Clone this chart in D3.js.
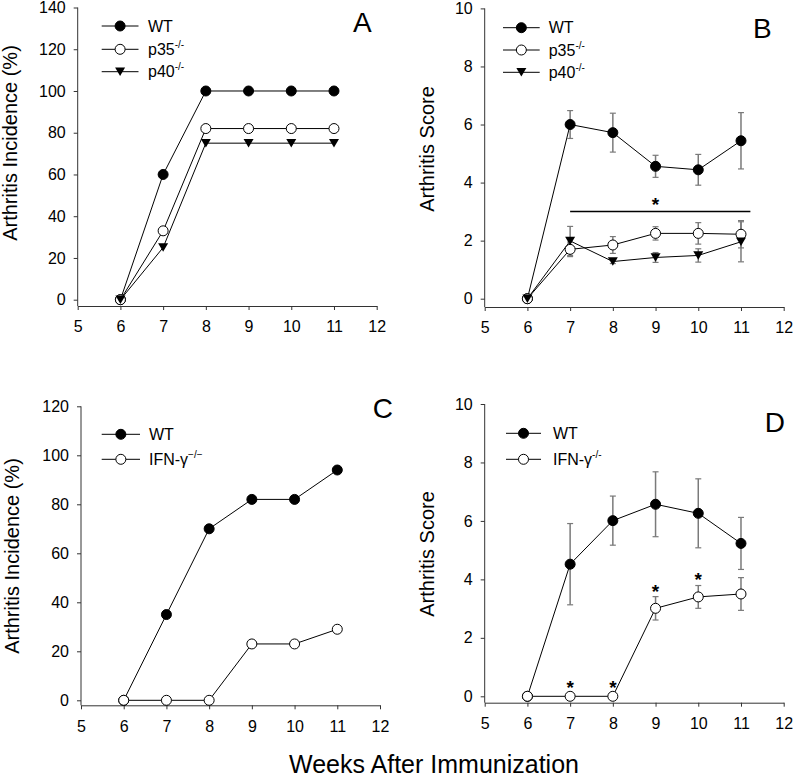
<!DOCTYPE html>
<html>
<head>
<meta charset="utf-8">
<script src="https://cdn.jsdelivr.net/npm/d3@7"></script>
<style>
  body { margin: 0; background: #fff; }
  svg { display: block; }
  text { font-family: "Liberation Sans", Arial, sans-serif; fill: #000; }
</style>
</head>
<body>
<svg id="chart" width="793" height="778"></svg>
<script>
// ---------- DATA ----------
const weeks = [6, 7, 8, 9, 10, 11];
const xTicks = [5, 6, 7, 8, 9, 10, 11, 12];

// Panel A: incidence (%)
const incWT_A  = [0, 60, 100, 100, 100, 100];
const incP35_A = [0, 33, 82, 82, 82, 82];
const incP40_A = [0, 25, 75, 75, 75, 75];
const yTicksA  = [0, 20, 40, 60, 80, 100, 120, 140];

// Panel B: arthritis score (mean ± SEM)
const scoreWT_B  = [0, 6.00, 5.72, 4.56, 4.44, 5.44];
const errWT_B    = [0, 0.48, 0.67, 0.38, 0.53, 0.97];
const scoreP35_B = [0, 1.70, 1.85, 2.25, 2.25, 2.22];
const errP35_B   = [0, 0.25, 0.29, 0.23, 0.37, 0.47];
const scoreP40_B = [0, 1.99, 1.28, 1.42, 1.49, 1.96];
const errP40_B   = [0, 0.50, 0.07, 0.17, 0.23, 0.69];
const sigLineB_x = [7, 11.22];
const sigLineB_y = 3.0;
const starB_x = [9];
const starB_y = [3.4];
const yTicksB = [0, 2, 4, 6, 8, 10];

// Panel C: incidence (%)
const incWT_C  = [0, 35, 70, 82, 82, 94];
const incIFN_C = [0, 0, 0, 23, 23, 29];
const yTicksC  = [0, 20, 40, 60, 80, 100, 120];

// Panel D: arthritis score (mean ± SEM)
const scoreWT_D  = [0, 4.52, 6.01, 6.57, 6.26, 5.23];
const errWT_D    = [0, 1.39, 0.84, 1.11, 1.18, 0.89];
const scoreIFN_D = [0, 0, 0, 3.01, 3.40, 3.50];
const errIFN_D   = [0, 0, 0, 0.40, 0.39, 0.56];
const starD_x = [7, 8, 9, 10];
const starD_y = [0.45, 0.45, 3.75, 4.15];
const yTicksD = [0, 2, 4, 6, 8, 10];

// ---------- DRAWING ----------
const svg = d3.select("#chart");
const axisColor = "#333";
const errColor = "#7a7a7a";
const fmt = d3.format("d");

function trianglePath(s) {
  const w = s, h = s * 0.85;
  return `M${-w/2},${-h/2}L${w/2},${-h/2}L0,${h/2}Z`;
}

function drawMarker(g, type, x, y) {
  if (type === "filled") {
    g.append("circle").attr("cx", x).attr("cy", y).attr("r", 5)
      .attr("fill", "#000").attr("stroke", "#000");
  } else if (type === "open") {
    g.append("circle").attr("cx", x).attr("cy", y).attr("r", 5)
      .attr("fill", "#fff").attr("stroke", "#000").attr("stroke-width", 1);
  } else if (type === "tri") {
    g.append("path").attr("d", trianglePath(10))
      .attr("transform", `translate(${x},${y})`)
      .attr("fill", "#000");
  }
}

function panel(cfg) {
  const g = svg.append("g");
  const x = d3.scaleLinear().domain([5, 12]).range([cfg.xL, cfg.xR]);
  const y = d3.scaleLinear().domain([0, cfg.yMax]).range([cfg.zeroY, cfg.topY]);

  // y axis
  const ya = g.append("g").attr("transform", `translate(${cfg.xL},0)`)
    .call(d3.axisLeft(y).tickValues(cfg.yTicks).tickFormat(fmt).tickSize(4).tickSizeOuter(0).tickPadding(8));
  ya.select(".domain").remove();
  ya.selectAll("line").attr("stroke", axisColor);
  ya.selectAll("text").style("font-size", "16px").style("font-family", "Liberation Sans, Arial, sans-serif").attr("fill", "#000");
  g.append("line").attr("x1", cfg.xL).attr("x2", cfg.xL)
    .attr("y1", cfg.topY).attr("y2", cfg.axisY).attr("stroke", axisColor);

  // x axis
  const xa = g.append("g").attr("transform", `translate(0,${cfg.axisY})`)
    .call(d3.axisBottom(x).tickValues(xTicks).tickFormat(fmt).tickSize(4).tickSizeOuter(0).tickPadding(11));
  xa.select(".domain").attr("stroke", axisColor);
  xa.selectAll("line").attr("stroke", axisColor);
  xa.selectAll("text").style("font-size", "16px").style("font-family", "Liberation Sans, Arial, sans-serif").attr("fill", "#000");

  // y label
  g.append("text").attr("transform", `translate(${cfg.ylabX},${cfg.ylabY}) rotate(-90)`)
    .attr("text-anchor", "middle").style("font-size", "20px").text(cfg.ylabel);

  // panel letter
  g.append("text").attr("x", cfg.letterX).attr("y", cfg.letterY)
    .style("font-size", "28px").text(cfg.letter);

  const line = d3.line().x((d, i) => x(weeks[i])).y(d => y(d));

  // lines
  cfg.series.forEach(s => {
    g.append("path").datum(s.values).attr("d", line)
      .attr("fill", "none").attr("stroke", "#000").attr("stroke-width", 1);
  });

  // significance line
  if (cfg.sigLine) {
    g.append("line").attr("x1", x(cfg.sigLine.x[0])).attr("x2", x(cfg.sigLine.x[1]))
      .attr("y1", y(cfg.sigLine.y)).attr("y2", y(cfg.sigLine.y))
      .attr("stroke", "#000").attr("stroke-width", 1.5);
  }

  // error bars
  cfg.series.forEach(s => {
    if (!s.err) return;
    s.values.forEach((v, i) => {
      const e = s.err[i];
      if (!e) return;
      const cx = x(weeks[i]);
      const y1 = y(v + e), y2 = y(v - e);
      g.append("line").attr("x1", cx).attr("x2", cx).attr("y1", y1).attr("y2", y2)
        .attr("stroke", errColor).attr("stroke-width", 1.5);
      [y1, y2].forEach(yy => {
        g.append("line").attr("x1", cx - 3).attr("x2", cx + 3).attr("y1", yy).attr("y2", yy)
          .attr("stroke", errColor).attr("stroke-width", 1.2);
      });
    });
  });

  // markers
  cfg.series.forEach(s => {
    s.values.forEach((v, i) => drawMarker(g, s.marker, x(weeks[i]), y(v)));
  });

  // stars
  if (cfg.stars) {
    cfg.stars.x.forEach((sx, i) => {
      g.append("text").attr("x", x(sx)).attr("y", y(cfg.stars.y[i]) + 11)
        .attr("text-anchor", "middle").style("font-size", "19px").style("font-weight", "bold")
        .text("*");
    });
  }

  // legend
  cfg.series.forEach((s, i) => {
    const ry = cfg.legRows[i];
    g.append("line").attr("x1", cfg.legX1).attr("x2", cfg.legX2).attr("y1", ry).attr("y2", ry)
      .attr("stroke", "#000").attr("stroke-width", 1);
    drawMarker(g, s.marker, (cfg.legX1 + cfg.legX2) / 2, ry);
    const t = g.append("text").attr("x", cfg.legTX).attr("y", ry + 5.5).style("font-size", "16px");
    t.append("tspan").text(s.name);
    if (s.sup) {
      t.append("tspan").attr("dy", -7).style("font-size", "10px").text(s.sup);
    }
  });
}

panel({
  xL: 77.7, xR: 376.7, zeroY: 299.7, topY: 7.5, axisY: 306, yMax: 140, yTicks: yTicksA,
  ylabel: "Arthritis Incidence (%)", ylabX: 17, ylabY: 143,
  letter: "A", letterX: 353, letterY: 31.5,
  legX1: 101.7, legX2: 138.5, legTX: 148, legRows: [26, 49.3, 71.7],
  series: [
    { name: "WT", values: incWT_A, marker: "filled" },
    { name: "p35", sup: "-/-", values: incP35_A, marker: "open" },
    { name: "p40", sup: "-/-", values: incP40_A, marker: "tri" }
  ]
});

panel({
  xL: 484.7, xR: 783.7, zeroY: 298.7, topY: 8.4, axisY: 307, yMax: 10, yTicks: yTicksB,
  ylabel: "Arthritis Score", ylabX: 434, ylabY: 149,
  letter: "B", letterX: 753, letterY: 37.5,
  legX1: 503, legX2: 539.7, legTX: 548.7, legRows: [27.7, 50, 72.3],
  sigLine: { x: sigLineB_x, y: sigLineB_y },
  stars: { x: starB_x, y: starB_y },
  series: [
    { name: "WT", values: scoreWT_B, err: errWT_B, marker: "filled" },
    { name: "p35", sup: "-/-", values: scoreP35_B, err: errP35_B, marker: "open" },
    { name: "p40", sup: "-/-", values: scoreP40_B, err: errP40_B, marker: "tri" }
  ]
});

panel({
  xL: 81, xR: 380, zeroY: 700.3, topY: 406.3, axisY: 705.3, yMax: 120, yTicks: yTicksC,
  ylabel: "Arthritis Incidence (%)", ylabX: 19.3, ylabY: 556,
  letter: "C", letterX: 372.7, letterY: 417.5,
  legX1: 101.7, legX2: 140, legTX: 149, legRows: [434.3, 459.3],
  series: [
    { name: "WT", values: incWT_C, marker: "filled" },
    { name: "IFN-γ", sup: "−/−", values: incIFN_C, marker: "open" }
  ]
});

panel({
  xL: 484.7, xR: 783.7, zeroY: 696.3, topY: 404, axisY: 702.7, yMax: 10, yTicks: yTicksD,
  ylabel: "Arthritis Score", ylabX: 434, ylabY: 554,
  letter: "D", letterX: 764.7, letterY: 432,
  legX1: 506, legX2: 541, legTX: 553, legRows: [433.3, 459.3],
  stars: { x: starD_x, y: starD_y },
  series: [
    { name: "WT", values: scoreWT_D, err: errWT_D, marker: "filled" },
    { name: "IFN-γ", sup: "-/-", values: scoreIFN_D, err: errIFN_D, marker: "open" }
  ]
});

// shared x title
svg.append("text").attr("x", 434).attr("y", 773).attr("text-anchor", "middle")
  .style("font-size", "25px").text("Weeks After Immunization");
</script>
</body>
</html>
